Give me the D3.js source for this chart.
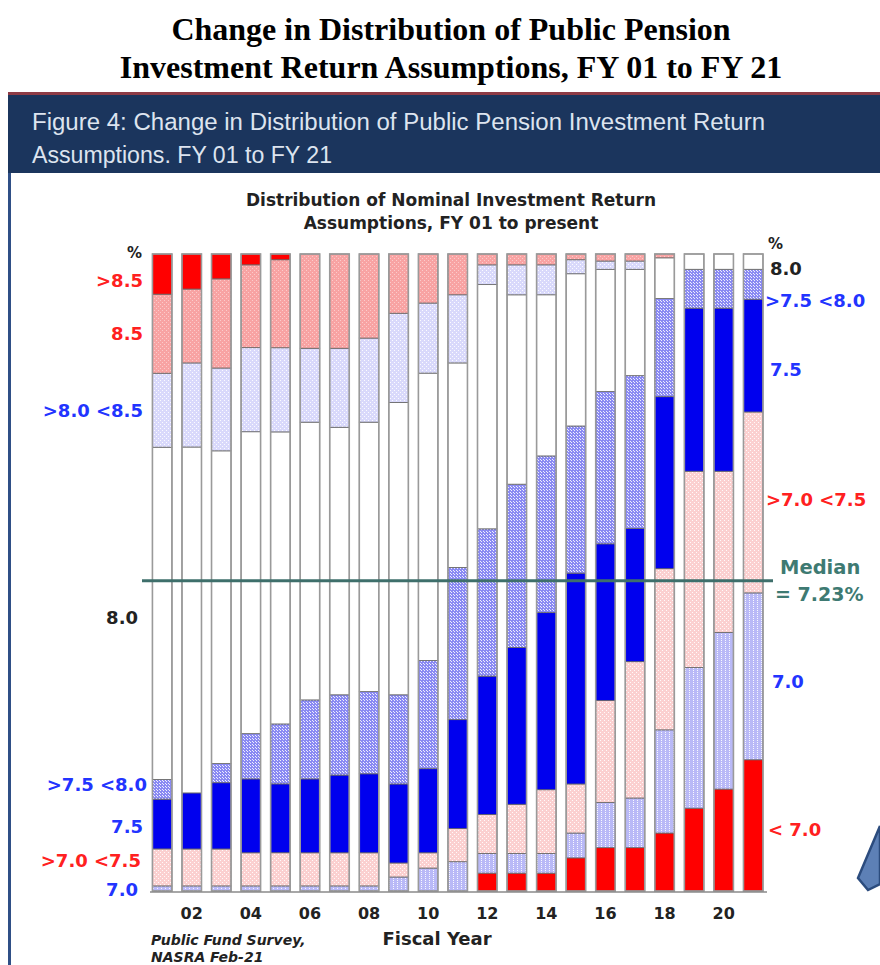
<!DOCTYPE html>
<html>
<head>
<meta charset="utf-8">
<script src="https://cdn.jsdelivr.net/npm/d3@7"></script>
<style>
  html, body { margin: 0; padding: 0; background: #ffffff; }
  svg { display: block; }
</style>
</head>
<body>
<svg id="chart" width="880" height="965"></svg>
<script>
// ---------------- DATA ----------------
const years = ["01","02","03","04","05","06","07","08","09","10","11","12","13","14","15","16","17","18","19","20","21"];
const tickLabels = ["02","04","06","08","10","12","14","16","18","20"];
const categories = ["<7.0","7.0",">7.0<7.5","7.5",">7.5<8.0","8.0",">8.0<8.5","8.5",">8.5"];
// share of plans (%) in each return-assumption band, FY01..FY21
const lt70      = [0,0,0,0,0,0,0,0,0,0,0,2.8,2.8,2.8,5.2,6.8,6.8,9.1,13.0,16.0,20.6];
const at70      = [0.8,0.8,0.8,0.8,0.8,0.8,0.8,0.8,2.2,3.6,4.6,3.1,3.1,3.1,3.9,7.1,7.8,16.2,22.1,24.6,26.2];
const gt70lt75  = [5.8,5.8,5.8,5.2,5.2,5.2,5.2,5.2,2.2,2.4,5.2,6.1,7.7,10.0,7.7,16.0,21.4,25.3,30.8,25.3,28.4];
const at75      = [7.8,8.8,10.4,11.6,10.8,11.6,12.2,12.4,12.4,13.2,17.1,21.7,24.6,27.8,33.1,24.6,20.9,27.0,25.6,25.6,17.7];
const gt75lt80  = [3.1,0,3.0,7.1,9.4,12.4,12.6,12.9,14.0,17.0,23.9,23.1,25.6,24.6,23.1,23.9,24.0,15.4,6.1,6.1,4.7];
const at80      = [52.1,54.3,49.1,47.4,45.8,43.6,42.0,42.3,45.9,45.1,32.1,38.3,29.7,25.3,23.9,19.2,16.7,6.4,2.4,2.4,2.4];
const gt80lt85  = [11.6,13.2,13.0,13.2,13.2,11.6,12.4,13.2,14.0,11.0,10.7,3.1,4.7,4.7,2.2,1.3,1.3,0,0,0,0];
const at85      = [12.4,11.6,14.0,13.0,13.8,14.8,14.8,13.2,9.3,7.7,6.4,1.7,1.7,1.7,0.9,1.1,1.1,0.6,0,0,0];
const gt85      = [6.3,5.5,3.9,1.7,0.9,0,0,0,0,0,0,0,0,0,0,0,0,0,0,0,0];
const medianLevel = 0.487;   // share-axis level where the median line is drawn
const medianText = ["Median", "= 7.23%"];

// ---------------- SETUP ----------------
const series = [lt70, at70, gt70lt75, at75, gt75lt80, at80, gt80lt85, at85, gt85];
const rows = years.map((y, i) => {
  const r = { year: y };
  categories.forEach((c, k) => r[c] = series[k][i]);
  return r;
});

const svg = d3.select("#chart");
const defs = svg.append("defs");

function dotPattern(id, bg, dot, size, dots, op) {
  const p = defs.append("pattern").attr("id", id).attr("patternUnits", "userSpaceOnUse")
    .attr("width", size).attr("height", size);
  p.append("rect").attr("width", size).attr("height", size).attr("fill", bg);
  dots.forEach(d => p.append("rect").attr("x", d[0]).attr("y", d[1]).attr("width", 1).attr("height", 1)
    .attr("fill", dot).attr("opacity", op));
}
dotPattern("p70", "#b9b9f7", "#ffffff", 4, [[1,0],[1,2]], 0.9);
dotPattern("p7075", "#fbd0d0", "#ffffff", 4, [[0,0],[2,2]], 0.9);
dotPattern("p7580", "#8a8af3", "#ffffff", 3, [[0,0],[1,1]], 0.85);
dotPattern("p8085", "#d9d9fb", "#ffffff", 4, [[0,0],[2,2]], 0.9);
dotPattern("p85", "#f8a3a3", "#fdd0d0", 4, [[0,0],[2,2]], 0.9);

const fills = {
  "<7.0": "#ff0000",
  "7.0": "url(#p70)",
  ">7.0<7.5": "url(#p7075)",
  "7.5": "#0000ee",
  ">7.5<8.0": "url(#p7580)",
  "8.0": "#ffffff",
  ">8.0<8.5": "url(#p8085)",
  "8.5": "url(#p85)",
  ">8.5": "#ff0000"
};

// ---------------- HEADER ----------------
const serif = "'Liberation Serif','Times New Roman',serif";
svg.append("text").attr("x", 451).attr("y", 40).attr("text-anchor", "middle")
  .attr("font-family", serif).attr("font-weight", "bold").attr("font-size", 32)
  .attr("fill", "#000").text("Change in Distribution of Public Pension");
svg.append("text").attr("x", 451).attr("y", 78).attr("text-anchor", "middle")
  .attr("font-family", serif).attr("font-weight", "bold").attr("font-size", 32)
  .attr("fill", "#000").text("Investment Return Assumptions, FY 01 to FY 21");

// banner
svg.append("rect").attr("x", 8).attr("y", 92).attr("width", 872).attr("height", 3).attr("fill", "#8e3b45");
svg.append("rect").attr("x", 8).attr("y", 95).attr("width", 872).attr("height", 78).attr("fill", "#1b355d");
svg.append("rect").attr("x", 8).attr("y", 173).attr("width", 3).attr("height", 792).attr("fill", "#2f4f86");
const bannerFont = "'Liberation Sans Narrow','Arial Narrow','Liberation Sans',sans-serif";
svg.append("text").attr("x", 32).attr("y", 130).attr("font-family", bannerFont).attr("font-size", 23)
  .attr("fill", "#dde4ef").attr("textLength", 733).attr("lengthAdjust", "spacingAndGlyphs")
  .text("Figure 4: Change in Distribution of Public Pension Investment Return");
svg.append("text").attr("x", 32).attr("y", 163).attr("font-family", bannerFont).attr("font-size", 23)
  .attr("fill", "#dde4ef").attr("textLength", 300).attr("lengthAdjust", "spacingAndGlyphs")
  .text("Assumptions. FY 01 to FY 21");

// chart subtitle
const sans = "'DejaVu Sans',Verdana,sans-serif";
svg.append("text").attr("x", 451).attr("y", 206).attr("text-anchor", "middle")
  .attr("font-family", sans).attr("font-weight", "bold").attr("font-size", 17).attr("fill", "#222")
  .text("Distribution of Nominal Investment Return");
svg.append("text").attr("x", 451).attr("y", 229).attr("text-anchor", "middle")
  .attr("font-family", sans).attr("font-weight", "bold").attr("font-size", 17).attr("fill", "#222")
  .text("Assumptions, FY 01 to present");

// ---------------- SCALES ----------------
const x = d3.scaleBand().domain(years).range([147.4, 768]).paddingInner(0.34).paddingOuter(0.17);
const y = d3.scaleLinear().domain([0, 1]).range([891, 254]);

const stack = d3.stack().keys(categories).offset(d3.stackOffsetExpand);
const stacked = stack(rows);

// ---------------- BARS ----------------
const g = svg.append("g");
stacked.forEach(layer => {
  g.append("g").selectAll("rect").data(layer).join("rect")
    .attr("x", d => x(d.data.year))
    .attr("width", x.bandwidth())
    .attr("y", d => y(d[1]))
    .attr("height", d => Math.max(0, y(d[0]) - y(d[1])))
    .attr("fill", fills[layer.key])
    .attr("stroke", d => (d[1] - d[0]) > 0 ? "#666" : "none")
    .attr("stroke-width", 0.8);
});
// bar outlines
g.append("g").selectAll("rect").data(years).join("rect")
  .attr("x", d => x(d)).attr("width", x.bandwidth())
  .attr("y", y(1)).attr("height", y(0) - y(1))
  .attr("fill", "none").attr("stroke", "#9a9a9a").attr("stroke-width", 1.6);

// baseline
svg.append("line").attr("x1", 150).attr("x2", 767).attr("y1", y(0) + 1).attr("y2", y(0) + 1)
  .attr("stroke", "#8a8a8a").attr("stroke-width", 1.5);

// x axis labels
const xAxis = d3.axisBottom(x).tickValues(tickLabels).tickSize(0).tickPadding(17);
const ax = svg.append("g").attr("transform", `translate(0,${y(0)})`).call(xAxis);
ax.select(".domain").remove();
ax.selectAll("text").attr("font-family", sans).attr("font-weight", "bold").attr("font-size", 16).attr("fill", "#222");

svg.append("text").attr("x", 437).attr("y", 945).attr("text-anchor", "middle")
  .attr("font-family", sans).attr("font-weight", "bold").attr("font-size", 18).attr("fill", "#222")
  .text("Fiscal Year");
svg.append("text").attr("x", 151).attr("y", 945)
  .attr("font-family", sans).attr("font-weight", "bold").attr("font-style", "italic").attr("font-size", 14).attr("fill", "#222")
  .text("Public Fund Survey,");
svg.append("text").attr("x", 151).attr("y", 962)
  .attr("font-family", sans).attr("font-weight", "bold").attr("font-style", "italic").attr("font-size", 14).attr("fill", "#222")
  .text("NASRA Feb-21");

// ---------------- MEDIAN LINE ----------------
svg.append("line").attr("x1", 142).attr("x2", 773).attr("y1", y(medianLevel)).attr("y2", y(medianLevel))
  .attr("stroke", "#3e6f6b").attr("stroke-width", 3);
svg.append("text").attr("x", 780).attr("y", y(medianLevel) - 7)
  .attr("font-family", sans).attr("font-weight", "bold").attr("font-size", 19.5).attr("fill", "#3e7a72")
  .text(medianText[0]);
svg.append("text").attr("x", 775).attr("y", y(medianLevel) + 20)
  .attr("font-family", sans).attr("font-weight", "bold").attr("font-size", 19).attr("fill", "#3e7a72")
  .text(medianText[1]);

// ---------------- CATEGORY LABELS ----------------
const RED = "#ff2020", BLUE = "#2234ff", BLK = "#222";
const labelText = {
  "<7.0": "< 7.0", "7.0": "7.0", ">7.0<7.5": ">7.0 <7.5", "7.5": "7.5", ">7.5<8.0": ">7.5 <8.0",
  "8.0": "8.0", ">8.0<8.5": ">8.0 <8.5", "8.5": "8.5", ">8.5": ">8.5"
};
const labelColor = {
  "<7.0": RED, "7.0": BLUE, ">7.0<7.5": RED, "7.5": BLUE, ">7.5<8.0": BLUE,
  "8.0": BLK, ">8.0<8.5": BLUE, "8.5": RED, ">8.5": RED
};
// left labels: midpoints of first bar's segments
const leftNudge = { "7.0": 1, ">7.0<7.5": -7, "7.5": 2, ">7.5<8.0": -5, "8.0": 4, ">8.0<8.5": 0, "8.5": 0, ">8.5": 6 };
const leftX = { "7.0": 138, ">7.0<7.5": 141, "7.5": 143, ">7.5<8.0": 147, "8.0": 138, ">8.0<8.5": 143, "8.5": 143, ">8.5": 143 };
stacked.forEach(layer => {
  const d = layer[0];
  if (d[1] - d[0] <= 0) return;
  const k = layer.key;
  svg.append("text").attr("x", leftX[k]).attr("y", (y(d[0]) + y(d[1])) / 2 + (leftNudge[k] || 0))
    .attr("dy", "0.36em").attr("text-anchor", "end")
    .attr("font-family", sans).attr("font-weight", "bold").attr("font-size", 18)
    .attr("fill", labelColor[k]).text(labelText[k]);
});
svg.append("text").attr("x", 142).attr("y", 258).attr("text-anchor", "end")
  .attr("font-family", sans).attr("font-weight", "bold").attr("font-size", 15).attr("fill", BLK).text("%");

// right labels: midpoints of last bar's segments
const rightNudge = { "<7.0": 4, "7.0": 5, ">7.0<7.5": -3, "7.5": 14, ">7.5<8.0": 16, "8.0": 7 };
const rightX = { "<7.0": 768, "7.0": 772, ">7.0<7.5": 766, "7.5": 770, ">7.5<8.0": 765, "8.0": 770 };
stacked.forEach(layer => {
  const d = layer[layer.length - 1];
  if (d[1] - d[0] <= 0) return;
  const k = layer.key;
  svg.append("text").attr("x", rightX[k]).attr("y", (y(d[0]) + y(d[1])) / 2 + (rightNudge[k] || 0))
    .attr("dy", "0.36em")
    .attr("font-family", sans).attr("font-weight", "bold").attr("font-size", 18)
    .attr("fill", labelColor[k]).text(labelText[k]);
});
svg.append("text").attr("x", 768).attr("y", 249)
  .attr("font-family", sans).attr("font-weight", "bold").attr("font-size", 15).attr("fill", BLK).text("%");

// decorative arrow fragment (bottom right)
svg.append("path").attr("d", "M880,826 L858,878 L868,890 L880,884 Z")
  .attr("fill", "#5d80b6").attr("stroke", "#2c4c7e").attr("stroke-width", 2.5);
</script>
</body>
</html>
